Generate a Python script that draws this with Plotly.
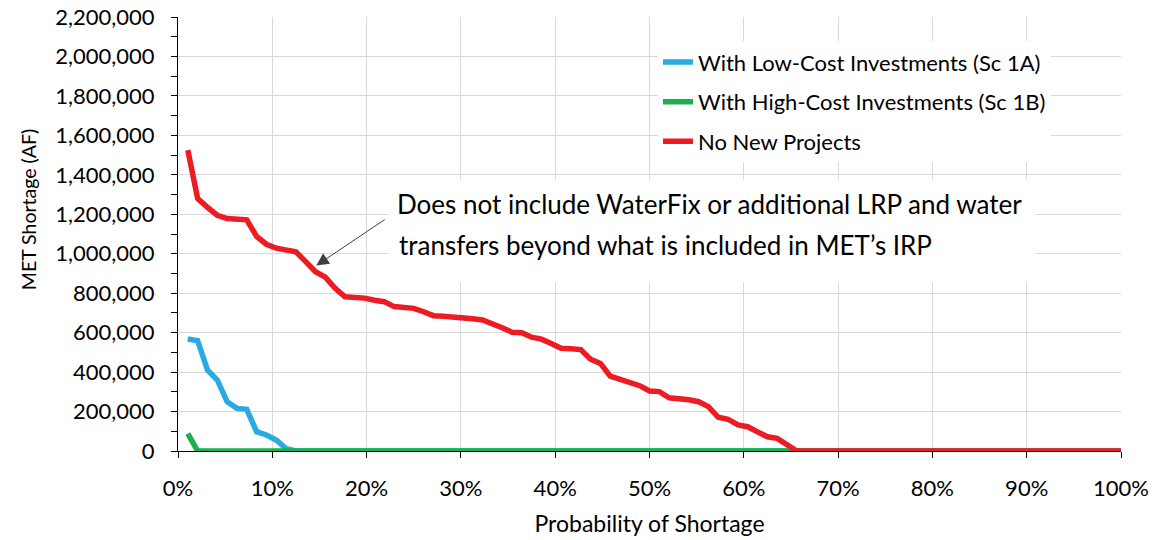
import plotly.graph_objects as go

# exceedance probability of each ranked year (96 simulated hydrologies)
n_years = 96
prob = [rank / n_years for rank in range(1, n_years + 1)]

# MET shortage (AF), sorted from largest to smallest
low_cost = [568000, 559000, 411000, 360000, 250000, 216000, 211000, 98000, 81000, 56000,
            12000, 0, 0, 0, 0, 0, 0, 0, 0, 0,
            0, 0, 0, 0, 0, 0, 0, 0, 0, 0,
            0, 0, 0, 0, 0, 0, 0, 0, 0, 0,
            0, 0, 0, 0, 0, 0, 0, 0, 0, 0,
            0, 0, 0, 0, 0, 0, 0, 0, 0, 0,
            0, 0, 0, 0, 0, 0, 0, 0, 0, 0,
            0, 0, 0, 0, 0, 0, 0, 0, 0, 0,
            0, 0, 0, 0, 0, 0, 0, 0, 0, 0,
            0, 0, 0, 0, 0, 0]

high_cost = [88000, 0, 0, 0, 0, 0, 0, 0, 0, 0,
             0, 0, 0, 0, 0, 0, 0, 0, 0, 0,
             0, 0, 0, 0, 0, 0, 0, 0, 0, 0,
             0, 0, 0, 0, 0, 0, 0, 0, 0, 0,
             0, 0, 0, 0, 0, 0, 0, 0, 0, 0,
             0, 0, 0, 0, 0, 0, 0, 0, 0, 0,
             0, 0, 0, 0, 0, 0, 0, 0, 0, 0,
             0, 0, 0, 0, 0, 0, 0, 0, 0, 0,
             0, 0, 0, 0, 0, 0, 0, 0, 0, 0,
             0, 0, 0, 0, 0, 0]

no_new = [1525000, 1280000, 1235000, 1195000, 1178000, 1172000, 1172000, 1088000, 1048000, 1028000,
          1018000, 1010000, 960000, 909000, 881000, 825000, 782000, 778000, 775000, 764000,
          757000, 732000, 728000, 723000, 706000, 686000, 683000, 680000, 676000, 670000,
          664000, 647000, 625000, 602000, 600000, 577000, 567000, 545000, 521000, 518000,
          514000, 465000, 444000, 380000, 362000, 347000, 331000, 304000, 301000, 270000,
          267000, 260000, 250000, 225000, 171000, 161000, 132000, 123000, 97000, 72000,
          64000, 33000, 0, 0, 0, 0, 0, 0, 0, 0,
          0, 0, 0, 0, 0, 0, 0, 0, 0, 0,
          0, 0, 0, 0, 0, 0, 0, 0, 0, 0,
          0, 0, 0, 0, 0, 0]

series = [
    ("With Low-Cost Investments (Sc 1A)", low_cost, "#29ABE2"),
    ("With High-Cost Investments (Sc 1B)", high_cost, "#1DAF4E"),
    ("No New Projects", no_new, "#ED1C24"),
]

note_line1 = "Does not include WaterFix or additional LRP and water"
note_line2 = "transfers beyond what is included in MET\u2019s IRP"

FONT = "Lato, 'Open Sans', sans-serif"
GRID = "#D9D9D9"

fig = go.Figure()
for name, vals, color in series:
    fig.add_trace(go.Scatter(x=prob, y=vals, name=name, mode="lines", legendgroup=name,
                             line=dict(color=color, width=5.5)))

fig.update_layout(
    width=1153, height=540,
    margin=dict(l=178, r=32, t=17, b=89),
    plot_bgcolor="white", paper_bgcolor="white",
    font=dict(family=FONT, size=22, color="black"),
    legend=dict(x=0.509, y=0.944, xanchor="left", yanchor="top", bgcolor="white",
                font=dict(size=22), tracegroupgap=8, itemwidth=30, traceorder="grouped"),
)

fig.update_xaxes(
    range=[0, 1], tick0=0, dtick=0.1, tickformat=".0%", automargin=False,
    showgrid=True, gridcolor=GRID, gridwidth=1, zeroline=False,
    showline=True, linecolor="black", linewidth=1,
    ticks="outside", ticklen=6, tickcolor="black", ticklabelstandoff=12,
    title=dict(text="Probability of Shortage", standoff=15, font=dict(size=23)),
)
fig.update_yaxes(
    range=[0, 2200000], tick0=0, dtick=200000, tickformat=",d", automargin=False,
    showgrid=True, gridcolor=GRID, gridwidth=1, zeroline=False,
    showline=True, linecolor="black", linewidth=1,
    ticks="outside", ticklen=6, tickcolor="black", ticklabelstandoff=12,
    minor=dict(dtick=100000, ticks="outside", ticklen=6, tickcolor="black", showgrid=False),
)

# y-axis title sits a little above the middle of the axis, as in the original
fig.add_annotation(x=-0.159, y=0.555, xref="paper", yref="paper", xanchor="center", yanchor="middle",
                   text="MET Shortage (AF)", textangle=-90, showarrow=False, font=dict(size=19.5))

# arrow pointing at the No New Projects curve
fig.add_annotation(x=0.1466, y=940000, xref="x", yref="y", text="", showarrow=True,
                   ax=70, ay=-47, arrowhead=2, arrowsize=2.5, arrowwidth=1, arrowcolor="#404040")
# note box
fig.add_annotation(x=0.2227, y=0.627, xref="paper", yref="paper", xanchor="left", yanchor="top",
                   text=note_line1, showarrow=False, align="left", valign="top",
                   width=630, height=86, borderpad=8, bgcolor="white",
                   font=dict(size=26))
fig.add_annotation(x=0.2322, y=0.4747, xref="paper", yref="paper", xanchor="left", yanchor="middle",
                   text=note_line2, showarrow=False, align="left", font=dict(size=26))

fig.write_html("out.html", config={"displayModeBar": False},
               post_script="document.body.style.margin = '0';")
